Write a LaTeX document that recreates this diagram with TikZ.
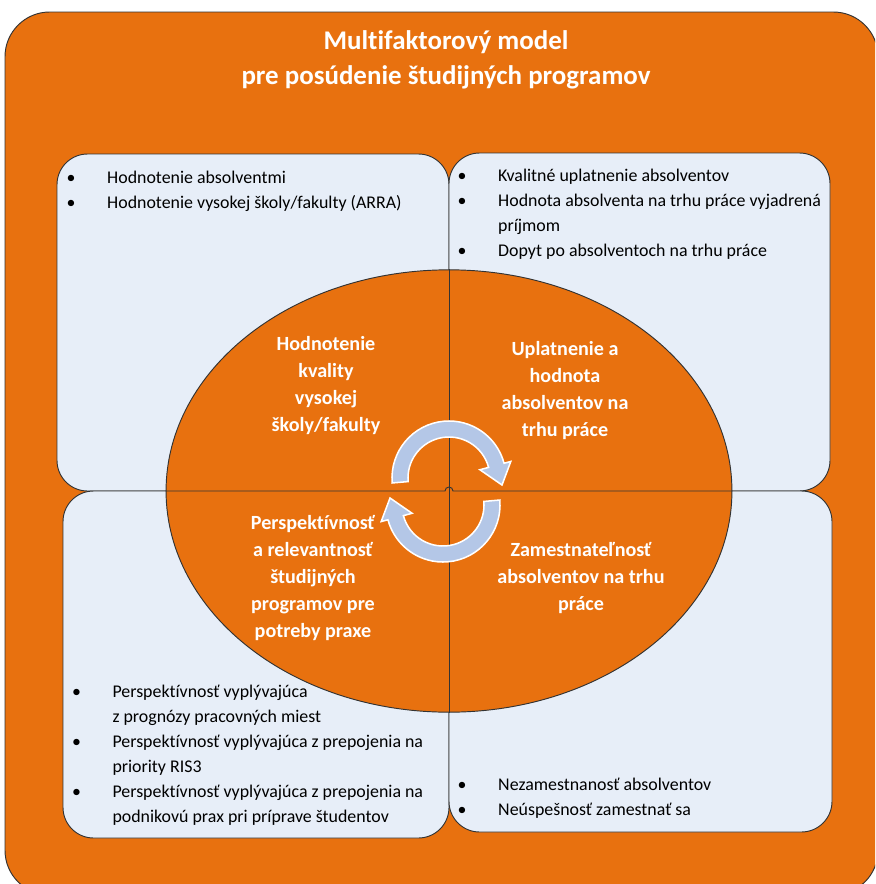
\documentclass[tikz,border=0pt]{standalone}
\usepackage{fontspec}
\setmainfont{Carlito}[Ligatures=NoCommon]
\usetikzlibrary{shapes.geometric}
\definecolor{frameorange}{HTML}{E8710F}
\definecolor{panelblue}{HTML}{E7EEF8}
\definecolor{cyclefill}{HTML}{B4C7E7}
\definecolor{edgegray}{HTML}{333333}

% one curved band with an arrowhead, drawn around the origin
\tikzset{
  cyclearrow/.pic={
    \filldraw[fill=cyclefill, draw=white, line width=1.3pt, line join=miter]
      (175:57) arc[start angle=175, end angle=345, radius=57]
      -- (345:64) -- (53,7) -- (345:32) -- (345:41)
      arc[start angle=345, end angle=175, radius=41] -- cycle;
  }
}

\begin{document}
\begin{tikzpicture}[x=0.85pt, y=-0.85pt,
  frame/.style={fill=frameorange, draw=edgegray, line width=0.8pt, rounded corners=38pt},
  panel/.style={fill=panelblue, draw=edgegray, line width=0.8pt, rounded corners=26pt},
  coreshape/.style={ellipse, fill=frameorange, draw=edgegray, line width=0.8pt,
    minimum width=481pt, minimum height=376pt, inner sep=0pt},
  divider/.style={draw=edgegray, line width=0.8pt},
  titletext/.style={text=white, font=\bfseries\fontsize{22.9}{29.75}\selectfont,
    align=center, inner sep=0pt},
  coretext/.style={text=white, font=\bfseries\fontsize{17.1}{22.95}\selectfont,
    align=center, inner sep=0pt},
  listtext/.style={text=black, font=\fontsize{15.2}{21.25}\selectfont,
    anchor=base west, inner sep=0pt}
]
\useasboundingbox (0,0) rectangle (875,884);
\clip (0,0) rectangle (875,884);

% outer frame
\draw[frame] (5,12) rectangle (878,895);

% four panels
\draw[panel] (57,154) rectangle (449,491);
\draw[panel] (449,153) rectangle (830,491);
\draw[panel] (63,491) rectangle (449,838);
\draw[panel] (449,491) rectangle (832,832);

% central ellipse split into quarters
\node[coreshape] (core) at (449,491) {};
\draw[divider] (core.north) -- (core.south);
\draw[divider] (core.west) -- (445,491) arc[start angle=180, end angle=360, radius=4] -- (core.east);

% cycle arrows
\pic at (449,478) {cyclearrow};
\pic[rotate=180] at (443,505) {cyclearrow};

% heading
\node[titletext] (title) at (446,60) {Multifaktorový model\\pre posúdenie študijných programov};

% quarter labels
\node[coretext] (qtl) at (326,386) {Hodnotenie\\kvality\\vysokej\\školy/fakulty};
\node[coretext] (qtr) at (565,391) {Uplatnenie a\\hodnota\\absolventov na\\trhu práce};
\node[coretext] (qbl) at (313,578) {Perspektívnosť\\a relevantnosť\\študijných\\programov pre\\potreby praxe};
\node[coretext] (qbr) at (581,578) {Zamestnateľnosť\\absolventov na trhu\\práce};

% bullet lists
\node[listtext] (ltl) at (66.5,183) {\begin{tabular}[t]{@{}p{34.4pt}@{}l@{}}
\textbullet & Hodnotenie absolventmi\\
\textbullet & Hodnotenie vysokej školy/fakulty (ARRA)
\end{tabular}};

\node[listtext] (ltr) at (457.5,181) {\begin{tabular}[t]{@{}p{34.4pt}@{}l@{}}
\textbullet & Kvalitné uplatnenie absolventov\\
\textbullet & Hodnota absolventa na trhu práce vyjadrená\\
 & príjmom\\
\textbullet & Dopyt po absolventoch na trhu práce
\end{tabular}};

\node[listtext] (lbl) at (71.8,697) {\begin{tabular}[t]{@{}p{34.4pt}@{}l@{}}
\textbullet & Perspektívnosť vyplývajúca\\
 & z prognózy pracovných miest\\
\textbullet & Perspektívnosť vyplývajúca z prepojenia na\\
 & priority RIS3\\
\textbullet & Perspektívnosť vyplývajúca z prepojenia na\\
 & podnikovú prax pri príprave študentov
\end{tabular}};

\node[listtext] (lbr) at (457.5,790) {\begin{tabular}[t]{@{}p{34.4pt}@{}l@{}}
\textbullet & Nezamestnanosť absolventov\\
\textbullet & Neúspešnosť zamestnať sa
\end{tabular}};
\end{tikzpicture}
\end{document}
